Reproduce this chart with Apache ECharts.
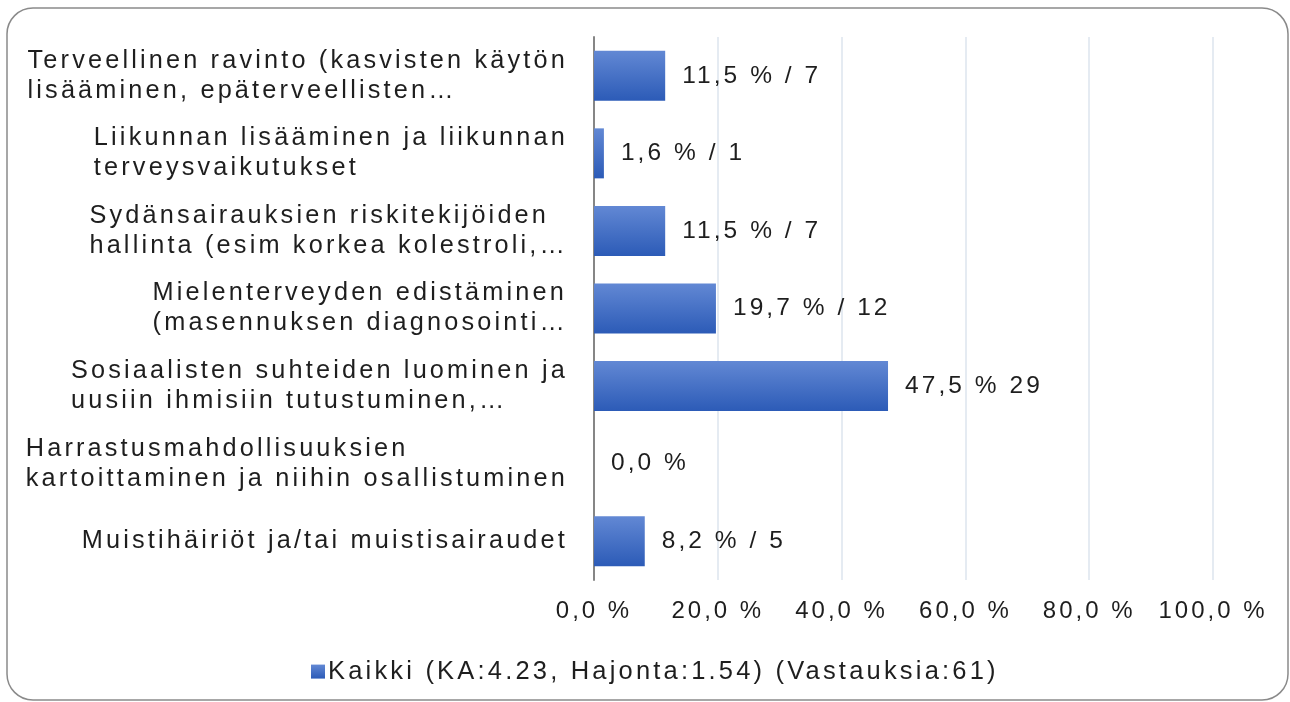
<!DOCTYPE html>
<html><head><meta charset="utf-8">
<script src="https://cdn.jsdelivr.net/npm/echarts@6/dist/echarts.min.js"></script>
<style>html,body{margin:0;padding:0;background:#fff}#c{width:1290px;height:702px}</style>
</head><body><div id="c"></div>
<script>
const categories = [
  "Terveellinen ravinto (kasvisten käytön\nlisääminen, epäterveellisten…",
  "Liikunnan lisääminen ja liikunnan\nterveysvaikutukset",
  "Sydänsairauksien riskitekijöiden\nhallinta (esim korkea kolestroli,…",
  "Mielenterveyden edistäminen\n(masennuksen diagnosointi…",
  "Sosiaalisten suhteiden luominen ja\nuusiin ihmisiin tutustuminen,…",
  "Harrastusmahdollisuuksien\nkartoittaminen ja niihin osallistuminen",
  "Muistihäiriöt ja/tai muistisairaudet"
];
const percentValues = [11.5, 1.6, 11.5, 19.7, 47.5, 0.0, 8.2];
const valueLabels = ["11,5 % / 7", "1,6 % / 1", "11,5 % / 7", "19,7 % / 12", "47,5 % 29", "0,0 %", "8,2 % / 5"];
const axisMin = 0, axisMax = 100, axisStep = 20;
const seriesName = "Kaikki (KA:4.23, Hajonta:1.54) (Vastauksia:61)";

// letter spacing for canvas text (drawing + measuring)
(function () {
  const P = CanvasRenderingContext2D.prototype;
  const ls = (ctx) => {
    const m = /(\d+(?:\.\d+)?)px/.exec(ctx.font);
    const s = m ? parseFloat(m[1]) : 12;
    return (s * 0.125).toFixed(2) + 'px';
  };
  const of = P.fillText, om = P.measureText;
  P.fillText = function (t, x, y, w) {
    this.letterSpacing = ls(this);
    return w === undefined ? of.call(this, t, x, y) : of.call(this, t, x, y, w);
  };
  P.measureText = function (t) {
    this.letterSpacing = ls(this);
    return om.call(this, t);
  };
})();

const FONT = "'Liberation Sans', Arial, sans-serif";
const TXT = '#1e1e1e';
const chart = echarts.init(document.getElementById('c'), null, { renderer: 'canvas' });
chart.setOption({
  animation: false,
  backgroundColor: '#fff',
  graphic: [{
    type: 'rect', silent: true, z: -1,
    shape: { x: 7, y: 8, width: 1281, height: 692, r: 26 },
    style: { fill: 'none', stroke: '#8a8a8a', lineWidth: 1.5 }
  }],
  grid: { left: 594, right: 77, top: 37, bottom: 122 },
  legend: {
    top: 652, left: 306,
    icon: 'rect', itemWidth: 14, itemHeight: 14, itemGap: 10,
    textStyle: { fontSize: 25.5, fontFamily: FONT, color: TXT, padding: [0, 0, 0, -2] },
    data: [seriesName]
  },
  xAxis: {
    type: 'value', min: axisMin, max: axisMax, interval: axisStep,
    axisLine: { show: false }, axisTick: { show: false },
    splitLine: { lineStyle: { color: '#dde4ee', width: 1.5 } },
    axisLabel: {
      margin: 18, fontSize: 24, fontFamily: FONT, color: TXT,
      formatter: v => v.toFixed(1).replace('.', ',') + ' %'
    }
  },
  yAxis: {
    type: 'category', inverse: true, data: categories,
    axisLine: { show: true, lineStyle: { color: '#868686', width: 2 } },
    axisTick: { show: false },
    axisLabel: {
      margin: 26, align: 'right',
      formatter: v => v.split('\n').map(l => '{a|' + l + '}').join('\n'),
      rich: { a: { align: 'left', fontSize: 25.3, lineHeight: 30, fontFamily: FONT, color: TXT } }
    }
  },
  series: [{
    name: seriesName, type: 'bar', data: percentValues, barWidth: 50,
    itemStyle: {
      color: new echarts.graphic.LinearGradient(0, 0, 0, 1, [
        { offset: 0, color: '#6288d4' }, { offset: 1, color: '#2c5bb7' }
      ])
    },
    label: {
      show: true, position: 'right', distance: 17,
      fontSize: 24.5, fontFamily: FONT, color: TXT,
      formatter: p => valueLabels[p.dataIndex]
    }
  }]
});
</script></body></html>
